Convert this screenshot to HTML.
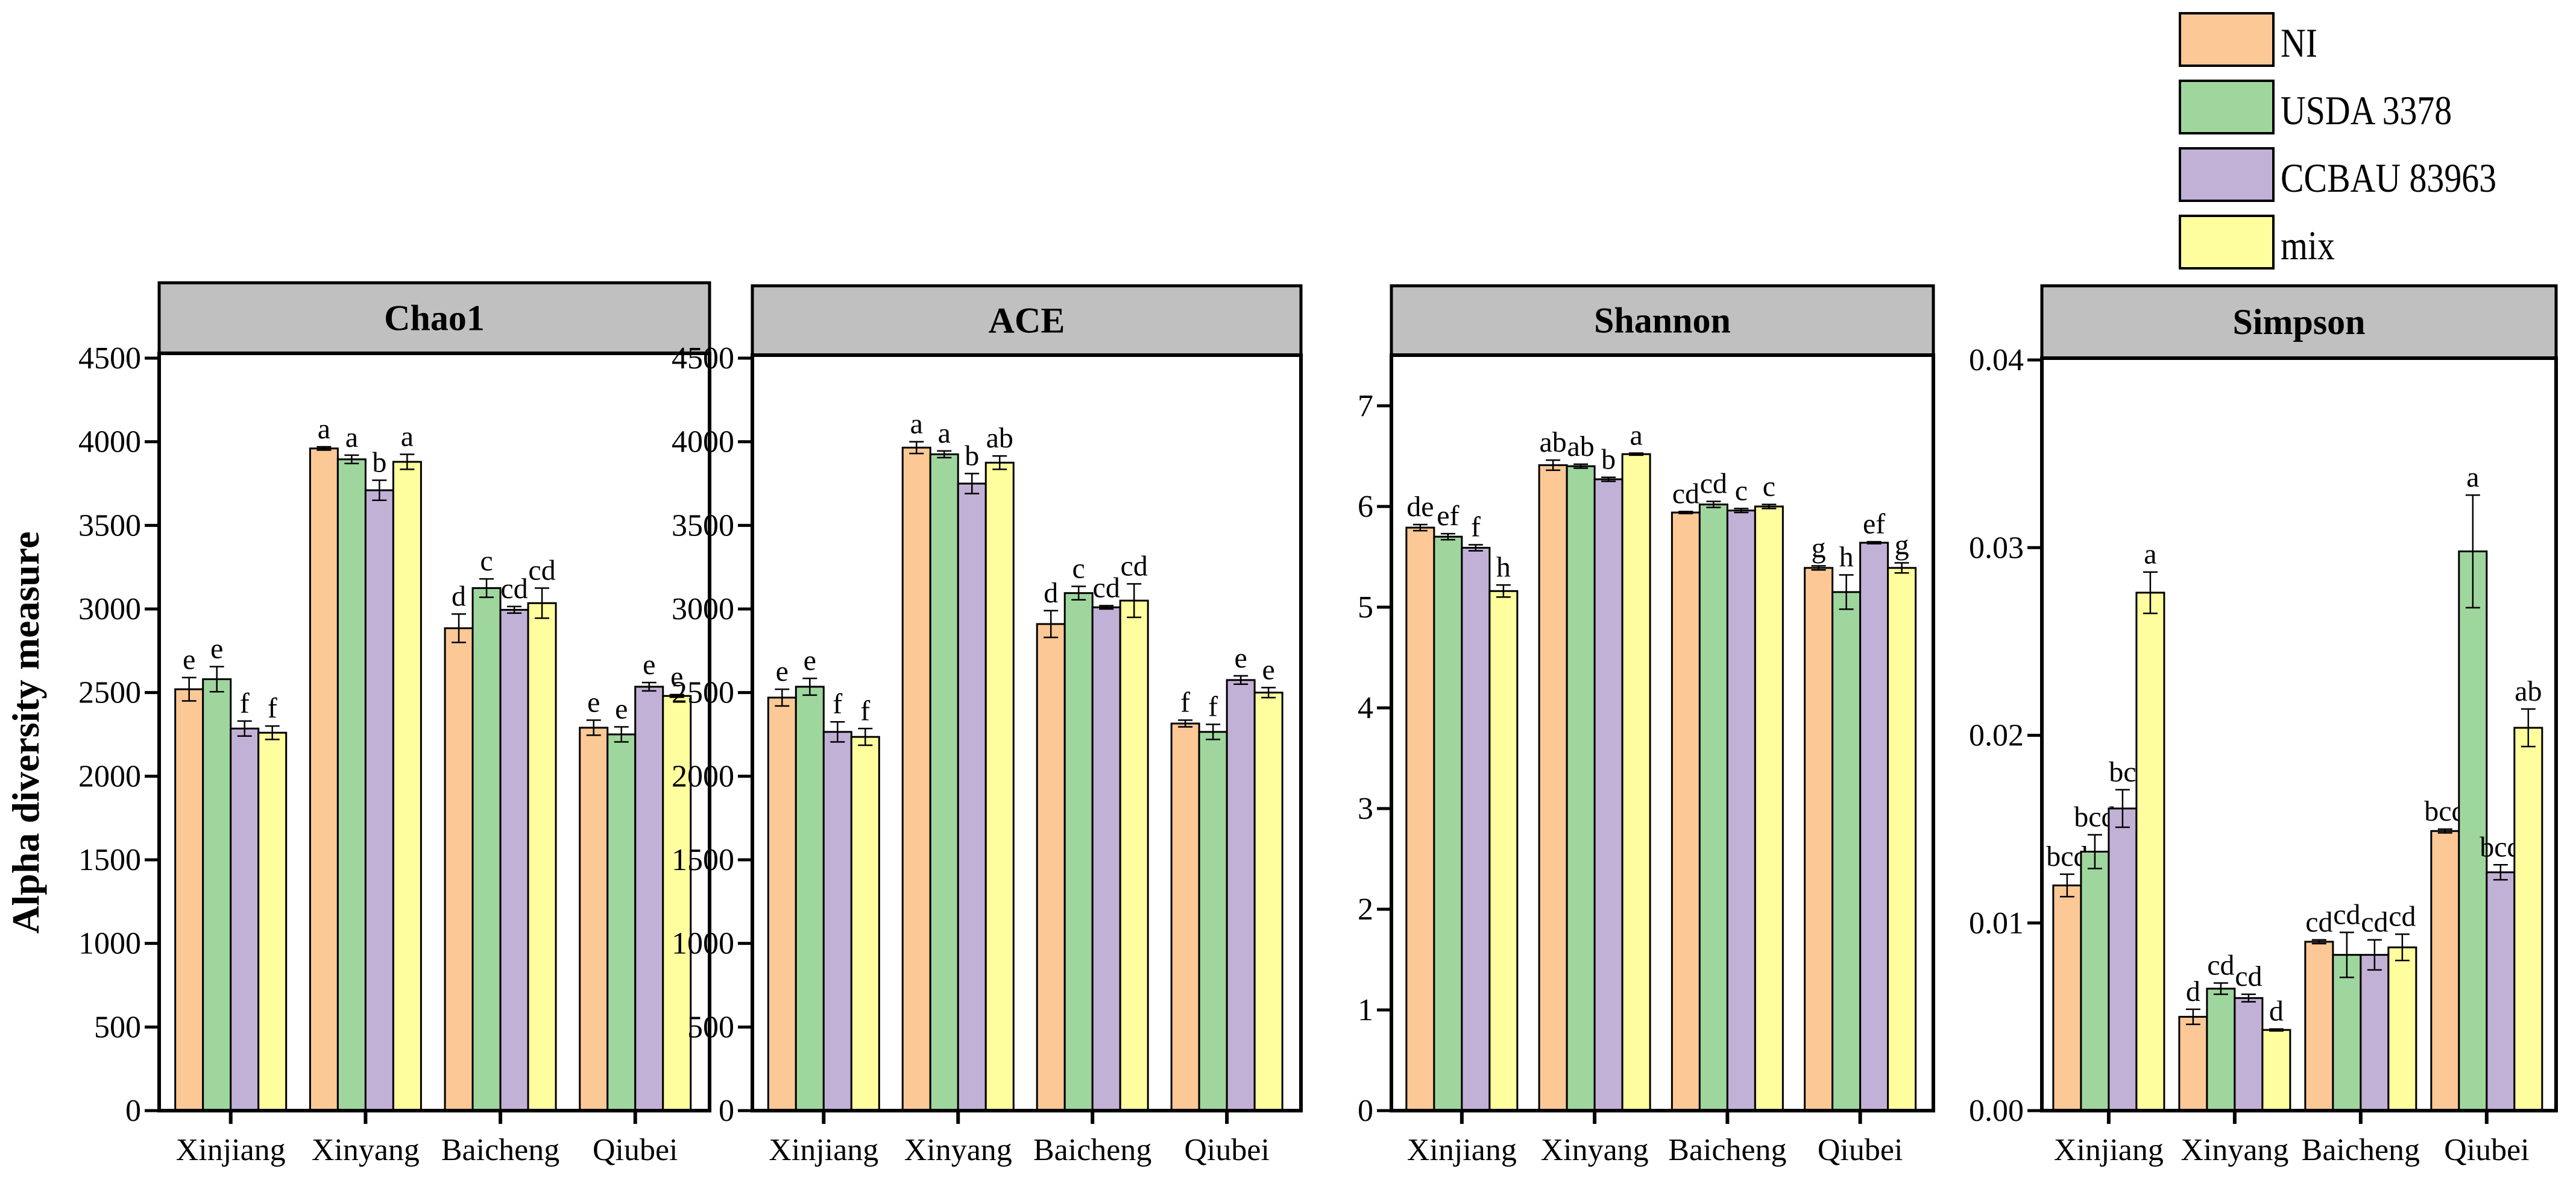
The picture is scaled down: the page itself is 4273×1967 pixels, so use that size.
<!DOCTYPE html>
<html><head><meta charset="utf-8"><style>
body{margin:0;background:#fff}
svg{display:block}
text{font-family:"Liberation Serif","DejaVu Serif",serif}
</style></head><body>
<svg id="c" width="4273" height="1967" viewBox="0 0 4273 1967" xmlns="http://www.w3.org/2000/svg" font-family="Liberation Serif, serif"></svg>
<script>
const sites = ["Xinjiang","Xinyang","Baicheng","Qiubei"];
const groups = ["NI","USDA 3378","CCBAU 83963","mix"];
const colors = ["#fbc896","#9fd69e","#c2b1d6","#fefe9e"];
const chao1Vals = [[2520,2580,2285,2260],[3960,3895,3710,3880],[2885,3125,2995,3035],[2290,2250,2535,2480]];
const chao1Err = [[70,75,45,40],[10,25,60,45],[85,55,20,90],[45,45,25,8]];
const chao1Let = [["e","e","f","f"],["a","a","b","a"],["d","c","cd","cd"],["e","e","e","e"]];
const aceVals = [[2470,2535,2265,2235],[3965,3925,3750,3875],[2910,3095,3010,3050],[2315,2265,2575,2500]];
const aceErr = [[50,50,60,50],[35,20,60,40],[80,40,10,100],[20,45,25,30]];
const aceLet = [["e","e","f","f"],["a","a","b","ab"],["d","c","cd","cd"],["f","f","e","e"]];
const shanVals = [[5.79,5.70,5.59,5.16],[6.41,6.40,6.27,6.52],[5.94,6.02,5.96,6.00],[5.39,5.15,5.64,5.39]];
const shanErr = [[0.03,0.03,0.03,0.06],[0.05,0.02,0.02,0.01],[0.01,0.03,0.02,0.02],[0.02,0.17,0.01,0.05]];
const shanLet = [["de","ef","f","h"],["ab","ab","b","a"],["cd","cd","c","c"],["g","h","ef","g"]];
const simVals = [[0.0120,0.0138,0.0161,0.0276],[0.0050,0.0065,0.0060,0.0043],[0.0090,0.0083,0.0083,0.0087],[0.0149,0.0298,0.0127,0.0204]];
const simErr = [[0.0006,0.0009,0.0010,0.0011],[0.0004,0.0003,0.0002,0.00005],[0.0001,0.0012,0.0008,0.0007],[0.0001,0.0030,0.0004,0.0010]];
const simLet = [["bcd","bcd","bc","a"],["d","cd","cd","d"],["cd","cd","cd","cd"],["bcd","a","bcd","ab"]];
const chaoTicks = [0,500,1000,1500,2000,2500,3000,3500,4000,4500];
const shanTicks = [0,1,2,3,4,5,6,7];
const simTicks = [0,0.01,0.02,0.03,0.04];

const NS="http://www.w3.org/2000/svg";
const svg=document.getElementById('c');
const FF='"Liberation Serif", serif';
function el(t,a,p){const e=document.createElementNS(NS,t);for(const k in a)e.setAttribute(k,a[k]);if(t==='text')e.setAttribute('font-family',FF);(p||svg).appendChild(e);return e;}

const panels=[
 {name:"Chao1",x0:264,x1:1177,hTop:469,pTop:586,zero:1842,ref:4500,refY:594,vals:chao1Vals,err:chao1Err,let:chao1Let,ticks:chaoTicks,fmt:v=>String(v)},
 {name:"ACE",x0:1248,x1:2158,hTop:474,pTop:589,zero:1842,ref:4500,refY:594,vals:aceVals,err:aceErr,let:aceLet,ticks:chaoTicks,fmt:v=>String(v)},
 {name:"Shannon",x0:2308,x1:3207,hTop:474,pTop:589,zero:1842,ref:7,refY:673,vals:shanVals,err:shanErr,let:shanLet,ticks:shanTicks,fmt:v=>String(v)},
 {name:"Simpson",x0:3387,x1:4240,hTop:474,pTop:594,zero:1842,ref:0.04,refY:597,vals:simVals,err:simErr,let:simLet,ticks:simTicks,fmt:v=>v.toFixed(2)}
];
const BW=46;
panels.forEach(P=>{
 const g=el('g',{});
 
 
 const y=v=>P.zero-(v/P.ref)*(P.zero-P.refY);
 const W=P.x1-P.x0;
 const cx=i=>P.x0+W*(0.13+0.245*i);
 const h=el('rect',{x:P.x0,y:P.hTop,width:W,height:P.pTop-P.hTop,fill:"#c0c0c0",stroke:"#000","stroke-width":5},g);
 
 
 const ht=el('text',{x:P.x0+W/2,y:(P.hTop+P.pTop)/2+20,"text-anchor":"middle","font-size":60,"font-weight":"bold"},g);
 ht.textContent=P.name;
 
 
 sites.forEach((s,i)=>{
  groups.forEach((gr,j)=>{
   const v=P.vals[i][j],e=P.err[i][j];
   const bx=cx(i)-2*BW+j*BW;
   const r=el('rect',{x:bx,y:y(v),width:BW,height:P.zero-y(v),fill:colors[j],stroke:"#000","stroke-width":3},g);
   
   
   const m=bx+BW/2,t=y(v+e),b=y(v-e);
   el('path',{d:`M${m},${t}V${b}M${m-12},${t}H${m+12}M${m-12},${b}H${m+12}`,stroke:"#000","stroke-width":2.5,fill:"none"},g);
   const lt=el('text',{x:m,y:t-14,"text-anchor":"middle","font-size":48},g);
   lt.textContent=P.let[i][j];
   
   
  });
  el('line',{x1:cx(i),x2:cx(i),y1:P.zero,y2:P.zero+22,stroke:"#000","stroke-width":6},g);
  const xl=el('text',{x:cx(i),y:P.zero+82,"text-anchor":"middle","font-size":52},g);
  xl.textContent=s;
  
  
 });
 el('rect',{x:P.x0,y:P.pTop,width:W,height:P.zero-P.pTop,fill:"none",stroke:"#000","stroke-width":6},g);
 P.ticks.forEach(tv=>{
  const ty=y(tv);
  el('line',{x1:P.x0-24,x2:P.x0,y1:ty,y2:ty,stroke:"#000","stroke-width":5},g);
  const tl=el('text',{x:P.x0-30,y:ty+17,"text-anchor":"end","font-size":52},g);
  tl.textContent=P.fmt(tv);
  
  
 });
});
const yt=el('text',{x:0,y:0,transform:"translate(64,1215) rotate(-90)","font-size":64,"font-weight":"bold","text-anchor":"middle"});
yt.textContent="Alpha diversity measure";


groups.forEach((gname,j)=>{
 const ly=22+j*112;
 const r=el('rect',{x:3616,y:ly,width:155,height:87,fill:colors[j],stroke:"#000","stroke-width":4});
 
 
 const t=el('text',{x:3783,y:ly+72,"font-size":68,transform:`translate(3783,0) scale(0.85,1) translate(-3783,0)`});
 t.textContent=gname;
 
 
});
</script>
</body></html>
